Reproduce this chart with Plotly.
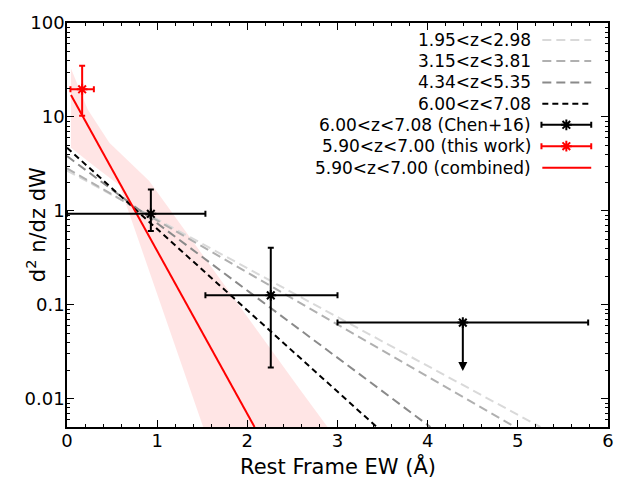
import math
import plotly.graph_objects as go

# ---------------- data ----------------
fit_labels = ["1.95<z<2.98", "3.15<z<3.81", "4.34<z<5.35", "6.00<z<7.08"]
fit_x0 = [0.0, 0.0, 0.0, 0.0]
fit_y0 = [2.69, 2.83, 3.83, 4.70]
fit_x1 = [5.25, 4.97, 4.03, 3.435]
fit_y1 = [0.005, 0.005, 0.005, 0.005]

chen_x = [0.93, 2.26, 4.39]
chen_y = [0.93, 0.126, 0.0646]
chen_xerr_minus = [0.93, 0.725, 1.39]
chen_xerr_plus = [0.605, 0.74, 1.39]
chen_yerr_minus = [0.32, 0.1045, 0.0]
chen_yerr_plus = [0.76, 0.279, 0.0]
chen_limit_x = 4.39
chen_limit_tip = 0.0197

this_x = [0.168]
this_y = [19.7]
this_xerr = [0.13]
this_yerr_plus = [15.3]
this_yerr_minus = [9.4]

comb_x = [0.044, 2.08]
comb_y = [17.1, 0.005]

band_upper_x = [0.044, 0.23, 0.47, 0.91, 2.59, 2.89]
band_upper_y = [32.7, 12.0, 5.3, 2.09, 0.0123, 0.005]
band_lower_x = [0.044, 0.30, 0.582, 1.37, 1.51]
band_lower_y = [4.7, 3.0, 1.87, 0.0123, 0.005]

legend_labels = fit_labels + ["6.00<z<7.08 (Chen+16)", "5.90<z<7.00 (this work)",
                              "5.90<z<7.00 (combined)"]

y_tickvals = [0.01, 0.1, 1, 10, 100]
y_ticktext = ["0.01", "0.1", "1", "10", "100"]

# ---------------- styles ----------------
FONT = "DejaVu Sans"
fit_colors = ["#d9d9d9", "#b0b0b0", "#8a8a8a", "#000000"]
fit_dash = ["9px,5px", "9px,5px", "9px,5px", "6px,4px"]
RED = "#ff0000"
BAND = "rgba(255,0,0,0.1)"

fig = go.Figure()

# shaded band
fig.add_trace(go.Scatter(
    x=band_upper_x + band_lower_x[::-1],
    y=band_upper_y + band_lower_y[::-1],
    fill="toself", fillcolor=BAND, line=dict(width=0), mode="lines",
    showlegend=False, hoverinfo="skip"))

# fit lines
for i in range(len(fit_labels)):
    fig.add_trace(go.Scatter(
        x=[fit_x0[i], fit_x1[i]], y=[fit_y0[i], fit_y1[i]], mode="lines",
        line=dict(color=fit_colors[i], width=2, dash=fit_dash[i]),
        showlegend=False))

# combined fit
fig.add_trace(go.Scatter(x=comb_x, y=comb_y, mode="lines",
                         line=dict(color=RED, width=2), showlegend=False))

# Chen+16 points
fig.add_trace(go.Scatter(
    x=chen_x, y=chen_y, mode="markers",
    marker=dict(symbol="asterisk", size=9, color="black",
                line=dict(color="black", width=2)),
    error_x=dict(type="data", symmetric=False, array=chen_xerr_plus,
                 arrayminus=chen_xerr_minus, color="black", thickness=2, width=3),
    error_y=dict(type="data", symmetric=False, array=chen_yerr_plus,
                 arrayminus=chen_yerr_minus, color="black", thickness=2, width=3),
    showlegend=False))

# this work
fig.add_trace(go.Scatter(
    x=this_x, y=this_y, mode="markers",
    marker=dict(symbol="asterisk", size=9, color=RED,
                line=dict(color=RED, width=2)),
    error_x=dict(type="data", array=this_xerr, color=RED, thickness=2, width=3),
    error_y=dict(type="data", symmetric=False, array=this_yerr_plus,
                 arrayminus=this_yerr_minus, color=RED, thickness=2, width=3),
    showlegend=False))

# upper-limit arrow
annotations = [dict(
    x=chen_limit_x, y=math.log10(chen_limit_tip),
    ax=chen_limit_x, ay=math.log10(chen_y[2]),
    xref="x", yref="y", axref="x", ayref="y", text="",
    showarrow=True, arrowhead=2, arrowsize=0.9, arrowwidth=2, arrowcolor="black")]

# ---------------- manual legend (symbols right of text) ----------------
row_y = [0.958, 0.906, 0.853, 0.800, 0.748, 0.695, 0.642]
key_x0, key_x1, key_xc = 0.8786, 0.969, 0.923
text_right = 0.861

for i in range(4):
    fig.add_trace(go.Scatter(
        x=[key_x0, key_x1], y=[row_y[i], row_y[i]], xaxis="x2", yaxis="y2",
        mode="lines", line=dict(color=fit_colors[i], width=2, dash=fit_dash[i]),
        showlegend=False, hoverinfo="skip"))
for j, col in [(4, "black"), (5, RED)]:
    fig.add_trace(go.Scatter(
        x=[key_xc], y=[row_y[j]], xaxis="x2", yaxis="y2", mode="markers",
        marker=dict(symbol="asterisk", size=9, color=col, line=dict(color=col, width=2)),
        error_x=dict(type="constant", value=key_x1 - key_xc, color=col,
                     thickness=2, width=3),
        showlegend=False, hoverinfo="skip"))
fig.add_trace(go.Scatter(
    x=[key_x0, key_x1], y=[row_y[6], row_y[6]], xaxis="x2", yaxis="y2",
    mode="lines", line=dict(color=RED, width=2), showlegend=False, hoverinfo="skip"))

for i, lab in enumerate(legend_labels):
    annotations.append(dict(x=text_right, y=row_y[i], xref="paper", yref="paper",
                            xanchor="right", yanchor="middle", text=lab,
                            showarrow=False, font=dict(family=FONT, size=17, color="black")))

# axis titles
annotations.append(dict(x=0.5, y=-0.0956, xref="paper", yref="paper",
                        xanchor="center", yanchor="middle", text="Rest Frame EW (Å)",
                        showarrow=False, font=dict(family=FONT, size=21, color="black")))
annotations.append(dict(x=-0.057, y=0.5, xref="paper", yref="paper",
                        xanchor="center", yanchor="middle", textangle=-90,
                        text="d<sup>2</sup> n/dz dW",
                        showarrow=False, font=dict(family=FONT, size=21, color="black")))

axis_common = dict(showline=True, linecolor="black", linewidth=1.5, mirror="ticks",
                   ticks="inside", ticklen=7, tickwidth=1.2, tickcolor="black",
                   showgrid=False, zeroline=False, ticklabelstandoff=-3,
                   tickfont=dict(family=FONT, size=18, color="black"))

fig.update_layout(
    width=626, height=479,
    margin=dict(l=67, r=13, t=19, b=52),
    paper_bgcolor="white", plot_bgcolor="white",
    font=dict(family=FONT, color="black"),
    showlegend=False,
    xaxis=dict(range=[0, 6], tickvals=[0, 1, 2, 3, 4, 5, 6],
               minor=dict(ticks="inside", ticklen=3.5, dtick=0.2, tickcolor="black",
                          tickwidth=1, showgrid=False),
               **axis_common),
    yaxis=dict(type="log", range=[math.log10(0.005), 2],
               tickvals=y_tickvals, ticktext=y_ticktext,
               minor=dict(ticks="inside", ticklen=3.5, dtick="D1", tickcolor="black",
                          tickwidth=1, showgrid=False),
               **axis_common),
    xaxis2=dict(overlaying="x", range=[0, 1], visible=False),
    yaxis2=dict(overlaying="y", range=[0, 1], visible=False),
    annotations=annotations,
)

fig.write_html("out.html")
